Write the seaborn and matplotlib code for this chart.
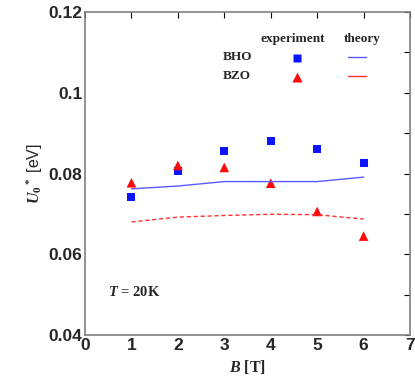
import matplotlib
matplotlib.use("Agg")
import matplotlib.pyplot as plt
import seaborn as sns
import pandas as pd
import numpy as np

B = [1, 2, 3, 4, 5, 6]
bho_exp = [0.0742, 0.0806, 0.0855, 0.0880, 0.0860, 0.0826]
bzo_exp = [0.0777, 0.0820, 0.0815, 0.0776, 0.0706, 0.0645]
bho_theory = [0.0762, 0.0769, 0.0780, 0.0780, 0.0780, 0.0791]
bzo_theory = [0.0680, 0.0692, 0.0696, 0.0699, 0.0698, 0.0687]

sns.set_theme(style="white")
plt.rcParams['font.family'] = ['Liberation Sans', 'DejaVu Sans']
plt.rcParams['mathtext.fontset'] = 'custom'
plt.rcParams['mathtext.rm'] = 'Liberation Serif:bold'
plt.rcParams['mathtext.it'] = 'Liberation Serif:italic:bold'
plt.rcParams['mathtext.bf'] = 'Liberation Serif:bold'

fig = plt.figure(figsize=(4.15, 3.85), dpi=100)
ax = fig.add_axes([0.2048, 0.1299, 0.7832, 0.8389])

df_exp = pd.DataFrame({"B": B, "bho": bho_exp, "bzo": bzo_exp})
df_th = pd.DataFrame({"B": B, "bho": bho_theory, "bzo": bzo_theory})

sns.lineplot(data=df_th, x="B", y="bho", ax=ax, color="#5a5aff", lw=1.0)
sns.lineplot(data=df_th, x="B", y="bzo", ax=ax, color="#ff3030", lw=1.0, linestyle=(0, (3, 2)))
sns.scatterplot(data=df_exp, x="B", y="bho", ax=ax, marker="s", color="#0a14ff", s=32, edgecolor="none")
sns.scatterplot(data=df_exp, x="B", y="bzo", ax=ax, marker="^", color="#ff0a0a", s=48, edgecolor="none")

ax.set_xlim(0, 7)
ax.set_ylim(0.04, 0.12)
ax.set_xticks(range(0, 8))
ax.set_yticks([0.04, 0.06, 0.08, 0.1, 0.12])
ax.set_yticklabels(["0.04", "0.06", "0.08", "0.1", "0.12"])
ax.set_yticks([0.05, 0.07, 0.09, 0.11], minor=True)
ax.tick_params(axis="both", which="both", direction="in", top=True, right=True,
               labelsize=12.5, length=4, width=0.8, color="black", pad=2)
for lab in ax.get_xticklabels() + ax.get_yticklabels():
    lab.set_fontweight("bold")
for s in ax.spines.values():
    s.set_color("#808080")
    s.set_linewidth(1.2)

ax.set_xlabel(r"$B$ [T]", family="Liberation Serif", fontsize=11.5, fontweight="bold", labelpad=4)
ax.set_ylabel(r"$U_0$$^*$ [eV]", family="Liberation Sans", fontsize=11.5, labelpad=2)

ax.text(0.07, 0.12, r"$T$ = 20K", transform=ax.transAxes, family="Liberation Serif",
        fontsize=10.5, fontweight="bold")

# legend table
tr = ax.transAxes
def ax_xy(px, py):
    return ((px - 85) / 325, (335 - py) / 323)
fs = 9.5
x, y = ax_xy(293, 39); ax.text(x, y, "experiment", transform=tr, ha="center", va="center", family="Liberation Serif", fontsize=fs, fontweight="bold")
x, y = ax_xy(362, 39); ax.text(x, y, "theory", transform=tr, ha="center", va="center", family="Liberation Serif", fontsize=fs, fontweight="bold")
x, y = ax_xy(237, 57); ax.text(x, y, "BHO", transform=tr, ha="center", va="center", family="Liberation Serif", fontsize=fs, fontweight="bold")
x, y = ax_xy(237, 76); ax.text(x, y, "BZO", transform=tr, ha="center", va="center", family="Liberation Serif", fontsize=fs, fontweight="bold")
x, y = ax_xy(297, 58); ax.plot([x], [y], "s", color="#0a14ff", ms=5.5, mec="none", transform=tr)
x, y = ax_xy(297, 77); ax.plot([x], [y], "^", color="#ff0a0a", ms=7.5, mec="none", transform=tr)
x1, y1 = ax_xy(348, 57); x2, _ = ax_xy(366, 57); ax.plot([x1, x2], [y1, y1], color="#5a5aff", lw=1.0, transform=tr)
x1, y1 = ax_xy(348, 76); x2, _ = ax_xy(366, 76); ax.plot([x1, x2], [y1, y1], color="#ff3030", lw=1.0, transform=tr)

fig.savefig("out.png", dpi=100)
